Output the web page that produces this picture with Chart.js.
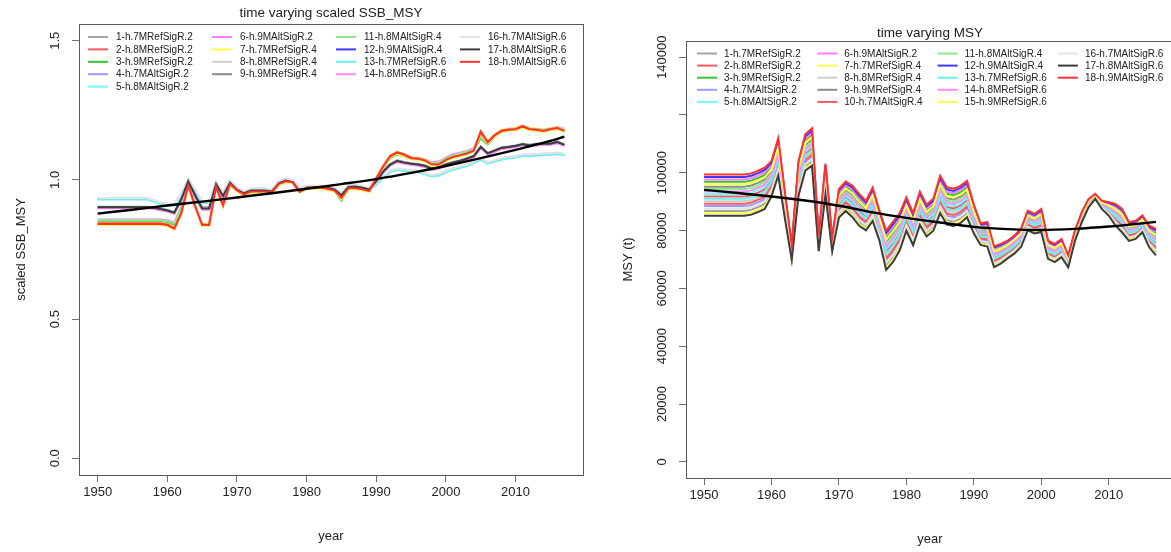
<!DOCTYPE html>
<html>
<head>
<meta charset="utf-8">
<script src="https://cdn.jsdelivr.net/npm/chart.js@4.4.1/dist/chart.umd.min.js"></script>
<style>
  html, body { margin: 0; padding: 0; background: #ffffff; overflow: hidden; }
  #leftPanel { position: absolute; left: 0; top: 0; width: 600px; height: 552px; }
  #rightPanel { position: absolute; left: 600px; top: 0; width: 580px; height: 552px; }
</style>
</head>
<body>
<div id="leftPanel"><canvas id="ssbCanvas" width="600" height="552"></canvas></div>
<div id="rightPanel"><canvas id="msyCanvas" width="580" height="552"></canvas></div>
<script>
// ---------- data ----------
const years = [1950,1951,1952,1953,1954,1955,1956,1957,1958,1959,1960,1961,1962,1963,1964,1965,1966,1967,1968,1969,
  1970,1971,1972,1973,1974,1975,1976,1977,1978,1979,1980,1981,1982,1983,1984,1985,1986,1987,1988,1989,
  1990,1991,1992,1993,1994,1995,1996,1997,1998,1999,2000,2001,2002,2003,2004,2005,2006,2007,2008,2009,
  2010,2011,2012,2013,2014,2015,2016,2017];

const xTickYears = [1950, 1960, 1970, 1980, 1990, 2000, 2010];
const ssbTicks = [0, 0.5, 1.0, 1.5];
const ssbTickLabels = ['0.0', '0.5', '1.0', '1.5'];
const msyTicks = [0, 20000, 40000, 60000, 80000, 100000, 120000, 140000];
const msyTickLabels = ['0', '20000', '40000', '60000', '80000', '100000', '', '140000'];

const seriesNames = ['1-h.7MRefSigR.2','2-h.8MRefSigR.2','3-h.9MRefSigR.2','4-h.7MAltSigR.2','5-h.8MAltSigR.2',
  '6-h.9MAltSigR.2','7-h.7MRefSigR.4','8-h.8MRefSigR.4','9-h.9MRefSigR.4','10-h.7MAltSigR.4',
  '11-h.8MAltSigR.4','12-h.9MAltSigR.4','13-h.7MRefSigR.6','14-h.8MRefSigR.6','15-h.9MRefSigR.6',
  '16-h.7MAltSigR.6','17-h.8MAltSigR.6','18-h.9MAltSigR.6'];

const seriesColors = ['#a3a3a3','#ff5a5a','#33c633','#9a9aff','#70ffff','#ff7dff','#ffff4d','#cfcfcf','#8c8c8c','#ff5a5a',
  '#8de88d','#3b3bff','#66f0f0','#ff8cff','#ffff4d','#e3e3e3','#3d3d3d','#ff3030'];

// scaled SSB_MSY by run
const ssb01 = [.932,.932,.932,.932,.932,.932,.932,.932,.925,.916,.912,.910,.948,1.000,.962,.920,.920,.990,.952,.995,.970,.956,.966,.966,.966,.962,.992,1.002,.996,.966,.976,.976,.976,.974,.968,.950,.978,.978,.975,.965,.985,1.010,1.030,1.038,1.035,1.032,1.030,1.022,1.014,1.018,1.030,1.038,1.045,1.052,1.062,1.075,1.060,1.068,1.075,1.080,1.082,1.088,1.088,1.090,1.092,1.092,1.095,1.090];
const ssb02 = [.840,.840,.840,.840,.840,.840,.840,.840,.840,.840,.836,.823,.878,.978,.903,.836,.836,.973,.906,.983,.960,.946,.956,.956,.956,.953,.983,.993,.990,.956,.970,.970,.970,.966,.960,.933,.968,.968,.964,.958,1.003,1.046,1.083,1.096,1.088,1.076,1.074,1.068,1.053,1.053,1.070,1.080,1.086,1.093,1.103,1.170,1.133,1.158,1.174,1.178,1.180,1.190,1.180,1.178,1.174,1.180,1.184,1.174];
const ssb03 = [.852,.852,.852,.852,.852,.852,.852,.852,.852,.852,.848,.840,.900,.990,.935,.897,.897,.982,.935,.988,.962,.950,.960,.960,.960,.956,.988,.998,.992,.960,.972,.972,.972,.968,.960,.925,.968,.970,.966,.960,1.000,1.042,1.078,1.092,1.085,1.075,1.074,1.068,1.058,1.060,1.075,1.085,1.092,1.098,1.108,1.150,1.128,1.155,1.172,1.178,1.180,1.188,1.180,1.178,1.175,1.180,1.184,1.178];
const ssb04 = [.934,.934,.934,.934,.934,.934,.934,.934,.927,.918,.914,.912,.950,1.002,.964,.922,.922,.992,.954,.997,.972,.958,.968,.968,.968,.964,.994,1.004,.998,.968,.978,.978,.978,.976,.970,.952,.980,.980,.977,.967,.987,1.012,1.032,1.040,1.037,1.034,1.032,1.024,1.016,1.020,1.032,1.040,1.047,1.054,1.064,1.077,1.062,1.070,1.077,1.082,1.084,1.090,1.090,1.092,1.094,1.094,1.097,1.092];
const ssb05 = [.931,.931,.931,.931,.931,.931,.931,.931,.924,.915,.911,.909,.947,.999,.961,.919,.919,.989,.951,.994,.969,.955,.965,.965,.965,.961,.991,1.001,.995,.965,.975,.975,.975,.973,.967,.949,.977,.977,.974,.964,.984,1.009,1.029,1.037,1.034,1.031,1.029,1.021,1.013,1.017,1.029,1.037,1.044,1.051,1.061,1.074,1.059,1.067,1.074,1.079,1.081,1.087,1.087,1.089,1.091,1.091,1.094,1.089];
const ssb06 = [.858,.858,.858,.858,.858,.858,.858,.858,.858,.858,.854,.846,.906,.996,.941,.903,.903,.988,.941,.994,.968,.956,.966,.966,.966,.962,.994,1.004,.998,.966,.978,.978,.978,.974,.966,.931,.974,.976,.972,.966,1.006,1.048,1.084,1.098,1.091,1.081,1.080,1.074,1.064,1.066,1.081,1.091,1.098,1.104,1.114,1.156,1.134,1.161,1.178,1.184,1.186,1.194,1.186,1.184,1.181,1.186,1.190,1.184];
const ssb07 = [.846,.846,.846,.846,.846,.846,.846,.846,.846,.846,.842,.829,.884,.984,.909,.842,.842,.979,.912,.989,.966,.952,.962,.962,.962,.959,.989,.999,.996,.962,.976,.976,.976,.972,.966,.939,.974,.974,.970,.964,1.009,1.052,1.089,1.102,1.094,1.082,1.080,1.074,1.059,1.059,1.076,1.086,1.092,1.099,1.109,1.176,1.139,1.164,1.180,1.184,1.186,1.196,1.186,1.184,1.180,1.186,1.190,1.180];
const ssb08 = [.933,.933,.933,.933,.933,.933,.933,.933,.926,.917,.913,.911,.949,1.001,.963,.921,.921,.991,.953,.996,.971,.957,.967,.967,.967,.963,.993,1.003,.997,.967,.977,.977,.977,.975,.969,.951,.979,.979,.976,.966,.986,1.011,1.031,1.039,1.036,1.033,1.031,1.023,1.015,1.019,1.031,1.039,1.046,1.053,1.063,1.076,1.061,1.069,1.076,1.081,1.083,1.089,1.089,1.091,1.093,1.093,1.096,1.091];
const ssb09 = [.904,.904,.904,.904,.904,.904,.904,.904,.902,.897,.892,.884,.932,.997,.947,.899,.899,.987,.944,.992,.967,.954,.964,.964,.964,.960,.990,1.000,.994,.960,.974,.976,.976,.974,.968,.947,.977,.978,.974,.968,.997,1.032,1.057,1.070,1.064,1.060,1.057,1.052,1.042,1.047,1.057,1.064,1.070,1.078,1.087,1.120,1.097,1.107,1.117,1.120,1.124,1.130,1.126,1.130,1.132,1.132,1.138,1.128];
const ssb10 = [.844,.844,.844,.844,.844,.844,.844,.844,.844,.844,.840,.827,.882,.982,.907,.840,.840,.977,.910,.987,.964,.950,.960,.960,.960,.957,.987,.997,.994,.960,.974,.974,.974,.970,.964,.937,.972,.972,.968,.962,1.007,1.050,1.087,1.100,1.092,1.080,1.078,1.072,1.057,1.057,1.074,1.084,1.090,1.097,1.107,1.174,1.137,1.162,1.178,1.182,1.184,1.194,1.184,1.182,1.178,1.184,1.188,1.178];
const ssb11 = [.855,.855,.855,.855,.855,.855,.855,.855,.855,.855,.851,.843,.903,.993,.938,.900,.900,.985,.938,.991,.965,.953,.963,.963,.963,.959,.991,1.001,.995,.963,.975,.975,.975,.971,.963,.928,.971,.973,.969,.963,1.003,1.045,1.081,1.095,1.088,1.078,1.077,1.071,1.061,1.063,1.078,1.088,1.095,1.101,1.111,1.153,1.131,1.158,1.175,1.181,1.183,1.191,1.183,1.181,1.178,1.183,1.187,1.181];
const ssb12 = [.900,.900,.900,.900,.900,.900,.900,.900,.898,.893,.888,.880,.928,.993,.943,.895,.895,.983,.940,.988,.963,.950,.960,.960,.960,.956,.986,.996,.990,.956,.970,.972,.972,.970,.964,.943,.973,.974,.970,.964,.993,1.028,1.053,1.066,1.060,1.056,1.053,1.048,1.038,1.043,1.053,1.060,1.066,1.074,1.083,1.116,1.093,1.103,1.113,1.116,1.120,1.126,1.122,1.126,1.128,1.128,1.134,1.124];
const ssb13 = [.930,.930,.930,.930,.930,.930,.930,.930,.923,.914,.910,.908,.946,.998,.960,.918,.918,.988,.950,.993,.968,.954,.964,.964,.964,.960,.990,1.000,.994,.964,.974,.974,.974,.972,.966,.948,.976,.976,.973,.963,.983,1.008,1.028,1.036,1.033,1.030,1.028,1.020,1.012,1.016,1.028,1.036,1.043,1.050,1.060,1.073,1.058,1.066,1.073,1.078,1.080,1.086,1.086,1.088,1.090,1.090,1.093,1.088];
const ssb14 = [.898,.898,.898,.898,.898,.898,.898,.898,.896,.891,.886,.878,.926,.991,.941,.893,.893,.981,.938,.986,.961,.948,.958,.958,.958,.954,.984,.994,.988,.954,.968,.970,.970,.968,.962,.941,.971,.972,.968,.962,.991,1.026,1.051,1.064,1.058,1.054,1.051,1.046,1.036,1.041,1.051,1.058,1.064,1.072,1.081,1.114,1.091,1.101,1.111,1.114,1.118,1.124,1.120,1.124,1.126,1.126,1.132,1.122];
const ssb15 = [.838,.838,.838,.838,.838,.838,.838,.838,.838,.838,.834,.821,.876,.976,.901,.834,.834,.971,.904,.981,.958,.944,.954,.954,.954,.951,.981,.991,.988,.954,.968,.968,.968,.964,.958,.931,.966,.966,.962,.956,1.001,1.044,1.081,1.094,1.086,1.074,1.072,1.066,1.051,1.051,1.068,1.078,1.084,1.091,1.101,1.168,1.131,1.156,1.172,1.176,1.178,1.188,1.178,1.176,1.172,1.178,1.182,1.172];
const ssb16 = [.935,.935,.935,.935,.935,.935,.935,.935,.928,.919,.915,.913,.951,1.003,.965,.923,.923,.993,.955,.998,.973,.959,.969,.969,.969,.965,.995,1.005,.999,.969,.979,.979,.979,.977,.971,.953,.981,.981,.978,.968,.988,1.013,1.033,1.041,1.038,1.035,1.033,1.025,1.017,1.021,1.033,1.041,1.048,1.055,1.065,1.078,1.063,1.071,1.078,1.083,1.085,1.091,1.091,1.093,1.095,1.095,1.098,1.093];
const ssb17 = [.902,.902,.902,.902,.902,.902,.902,.902,.900,.895,.890,.882,.930,.995,.945,.897,.897,.985,.942,.990,.965,.952,.962,.962,.962,.958,.988,.998,.992,.958,.972,.974,.974,.972,.966,.945,.975,.976,.972,.966,.995,1.030,1.055,1.068,1.062,1.058,1.055,1.050,1.040,1.045,1.055,1.062,1.068,1.076,1.085,1.118,1.095,1.105,1.115,1.118,1.122,1.128,1.124,1.128,1.130,1.130,1.136,1.126];
const ssb18 = [.842,.842,.842,.842,.842,.842,.842,.842,.842,.842,.838,.825,.880,.980,.905,.838,.838,.975,.908,.985,.962,.948,.958,.958,.958,.955,.985,.995,.992,.958,.972,.972,.972,.968,.962,.935,.970,.970,.966,.960,1.005,1.048,1.085,1.098,1.090,1.078,1.076,1.070,1.055,1.055,1.072,1.082,1.088,1.095,1.105,1.172,1.135,1.160,1.176,1.180,1.182,1.192,1.182,1.180,1.176,1.182,1.186,1.176];

// MSY (t) by run
const msy01 = [86800,86800,86800,86800,86800,86800,86800,87200,88100,89200,93300,100600,85050,70500,93500,102200,104000,73500,93750,73450,85700,88000,85900,82950,81300,84700,77750,68000,70700,74600,81300,76250,83300,79250,81250,87600,83600,83100,84100,86100,80150,75900,75500,68200,69400,71100,72750,75050,80900,79800,80450,70950,69850,71550,67800,76850,83300,88350,91200,87750,85750,82600,80300,77200,77850,80100,75100,72500];
const msy02 = [91840,91840,91840,91840,91840,91840,91840,92240,93140,94240,97620,105160,88230,72300,97700,106640,108560,75300,97530,75070,89180,91600,89740,86850,84900,88780,81410,72800,75620,79160,85380,80150,87380,83150,85150,92160,88160,87660,88660,90540,83690,78540,78500,70720,71800,73260,74970,77270,83300,82200,83270,73170,72070,73770,69240,78110,84500,89370,91800,88770,87370,85240,83180,79480,80070,82140,77740,75740];
const msy03 = [96880,96880,96880,96880,96880,96880,96880,97280,98180,99280,101940,109720,91410,74100,101900,111080,113120,77100,101310,76690,92660,95200,93580,90750,88500,92860,85070,77600,80540,83720,89460,84050,91460,87050,89050,96720,92720,92220,93220,94980,87230,81180,81500,73240,74200,75420,77190,79490,85700,84600,86090,75390,74290,75990,70680,79370,85700,90390,92400,89790,88990,87880,86060,81760,82290,84180,80380,78980];
const msy04 = [88480,88480,88480,88480,88480,88480,88480,88880,89780,90880,94740,102120,86110,71100,94900,103680,105520,74100,95010,73990,86860,89200,87180,84250,82500,86060,78970,69600,72340,76120,82660,77550,84660,80550,82550,89120,85120,84620,85620,87580,81330,76780,76500,69040,70200,71820,73490,75790,81700,80600,81390,71690,70590,72290,68280,77270,83700,88690,91400,88090,86290,83480,81260,77960,78590,80780,75980,73580];
const msy05 = [92680,92680,92680,92680,92680,92680,92680,93080,93980,95080,98340,105920,88760,72600,98400,107380,109320,75600,98160,75340,89760,92200,90380,87500,85500,89460,82020,73600,76440,79920,86060,80800,88060,83800,85800,92920,88920,88420,89420,91280,84280,78980,79000,71140,72200,73620,75340,77640,83700,82600,83740,73540,72440,74140,69480,78320,84700,89540,91900,88940,87640,85680,83660,79860,80440,82480,78180,76280];
const msy06 = [97720,97720,97720,97720,97720,97720,97720,98120,99020,100120,102660,110480,91940,74400,102600,111820,113880,77400,101940,76960,93240,95800,94220,91400,89100,93540,85680,78400,81360,84480,90140,84700,92140,87700,89700,97480,93480,92980,93980,95720,87820,81620,82000,73660,74600,75780,77560,79860,86100,85000,86560,75760,74660,76360,70920,79580,85900,90560,92500,89960,89260,88320,86540,82140,82660,84520,80820,79520];
const msy07 = [85960,85960,85960,85960,85960,85960,85960,86360,87260,88360,92580,99840,84520,70200,92800,101460,103240,73200,93120,73180,85120,87400,85260,82300,80700,84020,77140,67200,69880,73840,80620,75600,82620,78600,80600,86840,82840,82340,83340,85360,79560,75460,75000,67780,69000,70740,72380,74680,80500,79400,79980,70580,69480,71180,67560,76640,83100,88180,91100,87580,85480,82160,79820,76820,77480,79760,74660,71960];
const msy08 = [90160,90160,90160,90160,90160,90160,90160,90560,91460,92560,96180,103640,87170,71700,96300,105160,107040,74700,96270,74530,88020,90400,88460,85550,83700,87420,80190,71200,73980,77640,84020,78850,86020,81850,83850,90640,86640,86140,87140,89060,82510,77660,77500,69880,71000,72540,74230,76530,82500,81400,82330,72430,71330,73030,68760,77690,84100,89030,91600,88430,86830,84360,82220,78720,79330,81460,76860,74660];
const msy09 = [95200,95200,95200,95200,95200,95200,95200,95600,96500,97600,100500,108200,90350,73500,100500,109600,111600,76500,100050,76150,91500,94000,92300,89450,87300,91500,83850,76000,78900,82200,88100,82750,90100,85750,87750,95200,91200,90700,91700,93500,86050,80300,80500,72400,73400,74700,76450,78750,84900,83800,85150,74650,73550,75250,70200,78950,85300,90050,92200,89450,88450,87000,85100,81000,81550,83500,79500,77900];
const msy10 = [89320,89320,89320,89320,89320,89320,89320,89720,90620,91720,95460,102880,86640,71400,95600,104420,106280,74400,95640,74260,87440,89800,87820,84900,83100,86740,79580,70400,73160,76880,83340,78200,85340,81200,83200,89880,85880,85380,86380,88320,81920,77220,77000,69460,70600,72180,73860,76160,82100,81000,81860,72060,70960,72660,68520,77480,83900,88860,91500,88260,86560,83920,81740,78340,78960,81120,76420,74120];
const msy11 = [94360,94360,94360,94360,94360,94360,94360,94760,95660,96760,99780,107440,89820,73200,99800,108860,110840,76200,99420,75880,90920,93400,91660,88800,86700,90820,83240,75200,78080,81440,87420,82100,89420,85100,87100,94440,90440,89940,90940,92760,85460,79860,80000,71980,73000,74340,76080,78380,84500,83400,84680,74280,73180,74880,69960,78740,85100,89880,92100,89280,88180,86560,84620,80620,81180,83160,79060,77360];
const msy12 = [98560,98560,98560,98560,98560,98560,98560,98960,99860,100960,103380,111240,92470,74700,103300,112560,114640,77700,102570,77230,93820,96400,94860,92050,89700,94220,86290,79200,82180,85240,90820,85350,92820,88350,90350,98240,94240,93740,94740,96460,88410,82060,82500,74080,75000,76140,77930,80230,86500,85400,87030,76130,75030,76730,71160,79790,86100,90730,92600,90130,89530,88760,87020,82520,83030,84860,81260,80060];
const msy13 = [91000,91000,91000,91000,91000,91000,91000,91400,92300,93400,96900,104400,87700,72000,97000,105900,107800,75000,96900,74800,88600,91000,89100,86200,84300,88100,80800,72000,74800,78400,84700,79500,86700,82500,84500,91400,87400,86900,87900,89800,83100,78100,78000,70300,71400,72900,74600,76900,82900,81800,82800,72800,71700,73400,69000,77900,84300,89200,91700,88600,87100,84800,82700,79100,79700,81800,77300,75200];
const msy14 = [93520,93520,93520,93520,93520,93520,93520,93920,94820,95920,99060,106680,89290,72900,99100,108120,110080,75900,98790,75610,90340,92800,91020,88150,86100,90140,82630,74400,77260,80680,86740,81450,88740,84450,86450,93680,89680,89180,90180,92020,84870,79420,79500,71560,72600,73980,75710,78010,84100,83000,84210,73910,72810,74510,69720,78530,84900,89710,92000,89110,87910,86120,84140,80240,80810,82820,78620,76820];
const msy15 = [96040,96040,96040,96040,96040,96040,96040,96440,97340,98440,101220,108960,90880,73800,101200,110340,112360,76800,100680,76420,92080,94600,92940,90100,87900,92180,84460,76800,79720,82960,88780,83400,90780,86400,88400,95960,91960,91460,92460,94240,86640,80740,81000,72820,73800,75060,76820,79120,85300,84200,85620,75020,73920,75620,70440,79160,85500,90220,92300,89620,88720,87440,85580,81380,81920,83840,79940,78440];
const msy16 = [87640,87640,87640,87640,87640,87640,87640,88040,88940,90040,94020,101360,85580,70800,94200,102940,104760,73800,94380,73720,86280,88600,86540,83600,81900,85380,78360,68800,71520,75360,81980,76900,83980,79900,81900,88360,84360,83860,84860,86840,80740,76340,76000,68620,69800,71460,73120,75420,81300,80200,80920,71320,70220,71920,68040,77060,83500,88520,91300,87920,86020,83040,80780,77580,78220,80440,75540,73040];
const msy17 = [85120,85120,85120,85120,85120,85120,85120,85520,86420,87520,91860,99080,83990,69900,92100,100720,102480,72900,92490,72910,84540,86800,84620,81650,80100,83340,76530,66400,69060,73080,79940,74950,81940,77950,79950,86080,82080,81580,82580,84620,78970,75020,74500,67360,68600,70380,72010,74310,80100,79000,79510,70210,69110,70810,67320,76430,82900,88010,91000,87410,85210,81720,79340,76440,77110,79420,74220,71420];
const msy18 = [99400,99400,99400,99400,99400,99400,99400,99800,100700,101800,104100,112000,93000,75000,104000,113300,115400,78000,103200,77500,94400,97000,95500,92700,90300,94900,86900,80000,83000,86000,91500,86000,93500,89000,91000,99000,95000,94500,95500,97200,89000,82500,83000,74500,75400,76500,78300,80600,86900,85800,87500,76500,75400,77100,71400,80000,86300,90900,92700,90300,89800,89200,87500,82900,83400,85200,81700,80600];

// smoothed trend lines
const smoothYears = [1950,1955,1960,1965,1970,1975,1980,1985,1990,1995,2000,2005,2010,2015,2017];
const ssbSmooth = [0.879,0.893,0.908,0.922,0.937,0.952,0.968,0.985,1.003,1.025,1.050,1.078,1.108,1.140,1.155];
const msySmooth = [94100,93000,91800,90400,88600,86300,84400,82800,81300,80500,80200,80600,81400,82500,83000];

const ssbRuns = [ssb01,ssb02,ssb03,ssb04,ssb05,ssb06,ssb07,ssb08,ssb09,ssb10,ssb11,ssb12,ssb13,ssb14,ssb15,ssb16,ssb17,ssb18];
const msyRuns = [msy01,msy02,msy03,msy04,msy05,msy06,msy07,msy08,msy09,msy10,msy11,msy12,msy13,msy14,msy15,msy16,msy17,msy18];

// ---------- drawing ----------
const FONT = "'Liberation Sans', Arial, Helvetica, sans-serif";
const TEXT = '#222222';
const FRAME = '#5a5a5a';

function buildDatasets(runs, smooth) {
  const sets = runs.map((vals, k) => ({
    label: seriesNames[k],
    data: years.map((yr, i) => ({ x: yr, y: vals[i] })),
    borderColor: seriesColors[k],
    backgroundColor: seriesColors[k],
    borderWidth: 2,
    pointRadius: 0,
    tension: 0,
    fill: false,
    order: 40 - k
  }));
  sets.push({
    label: '',
    trend: true,
    data: smoothYears.map((yr, i) => ({ x: yr, y: smooth[i] })),
    borderColor: '#000000',
    borderWidth: 2.4,
    pointRadius: 0,
    cubicInterpolationMode: 'monotone',
    fill: false,
    order: 0
  });
  return sets;
}

function decorPlugin(cfg) {
  return {
    id: 'panelDecor',
    afterDraw(chart) {
      const ctx = chart.ctx;
      const a = chart.chartArea;
      const ys = chart.scales.y;
      ctx.save();
      // plot frame
      ctx.strokeStyle = FRAME;
      ctx.lineWidth = 1;
      ctx.strokeRect(Math.round(a.left) + 0.5, Math.round(a.top) + 0.5,
        Math.round(a.right - a.left), Math.round(a.bottom - a.top));

      ctx.fillStyle = TEXT;
      ctx.textAlign = 'center';
      ctx.textBaseline = 'middle';
      ctx.font = '13px ' + FONT;
      // y tick labels, parallel to the axis
      cfg.yTicks.forEach((v, i) => {
        if (!cfg.yLabels[i]) return;
        ctx.save();
        ctx.translate(a.left - 24, ys.getPixelForValue(v));
        ctx.rotate(-Math.PI / 2);
        ctx.fillText(cfg.yLabels[i], 0, 0);
        ctx.restore();
      });
      // axis titles
      ctx.save();
      ctx.translate(a.left - 58, (a.top + a.bottom) / 2);
      ctx.rotate(-Math.PI / 2);
      ctx.fillText(cfg.yTitle, 0, 0);
      ctx.restore();
      ctx.fillText('year', (a.left + a.right) / 2, a.bottom + 61);
      // main title
      ctx.font = '13.5px ' + FONT;
      ctx.fillText(cfg.title, (a.left + a.right) / 2, cfg.titleY);

      // legend: 4 columns, filled column by column
      const lg = cfg.legend;
      ctx.font = '10px ' + FONT;
      ctx.textAlign = 'left';
      chart.data.datasets.filter(d => !d.trend).forEach((ds, k) => {
        if (lg.skip.includes(k)) return;
        const col = Math.floor(k / 5), row = k % 5;
        const x = lg.x0 + col * lg.colW;
        const y = lg.y0 + row * lg.rowH;
        ctx.strokeStyle = ds.borderColor;
        ctx.lineWidth = 2;
        ctx.beginPath();
        ctx.moveTo(x, y);
        ctx.lineTo(x + 20, y);
        ctx.stroke();
        ctx.fillStyle = TEXT;
        ctx.fillText(ds.label, x + lg.textDx, y + 0.5);
      });
      ctx.restore();
    }
  };
}

function makePanel(canvasId, runs, smooth, cfg) {
  return new Chart(document.getElementById(canvasId), {
    type: 'line',
    data: { datasets: buildDatasets(runs, smooth) },
    options: {
      responsive: false,
      animation: false,
      events: [],
      layout: { padding: { left: 0, right: cfg.padRight, top: cfg.padTop, bottom: 0 } },
      plugins: { legend: { display: false }, tooltip: { enabled: false }, title: { display: false } },
      scales: {
        x: {
          type: 'linear',
          min: 1947.32,
          max: 2019.68,
          afterBuildTicks: s => { s.ticks = xTickYears.map(v => ({ value: v })); },
          afterFit: s => { s.height = cfg.xAxisH; },
          border: { display: false },
          grid: { drawOnChartArea: false, drawTicks: true, tickLength: 7, color: '#6e6e6e', lineWidth: 1 },
          ticks: {
            font: { family: FONT, size: 13 }, color: TEXT, padding: 3,
            maxRotation: 0, minRotation: 0, autoSkip: false,
            callback: v => String(v)
          }
        },
        y: {
          type: 'linear',
          min: cfg.yMin,
          max: cfg.yMax,
          afterBuildTicks: s => { s.ticks = cfg.yTicks.map(v => ({ value: v })); },
          afterFit: s => { s.width = cfg.yAxisW; },
          border: { display: false },
          grid: { drawOnChartArea: false, drawTicks: true, tickLength: 7, color: '#6e6e6e', lineWidth: 1 },
          ticks: { display: false }
        }
      }
    },
    plugins: [decorPlugin(cfg)]
  });
}

makePanel('ssbCanvas', ssbRuns, ssbSmooth, {
  padRight: 17, padTop: 24, yAxisW: 79, xAxisH: 77,
  yMin: -0.06, yMax: 1.56, yTicks: ssbTicks, yLabels: ssbTickLabels,
  yTitle: 'scaled SSB_MSY', title: 'time varying scaled SSB_MSY', titleY: 13,
  legend: { x0: 88, colW: 124, y0: 37, rowH: 12.4, textDx: 28, skip: [9, 14] }
});

makePanel('msyCanvas', msyRuns, msySmooth, {
  padRight: 6, padTop: 41, yAxisW: 86, xAxisH: 74,
  yMin: -5600, yMax: 145600, yTicks: msyTicks, yLabels: msyTickLabels,
  yTitle: 'MSY (t)', title: 'time varying MSY', titleY: 33,
  legend: { x0: 97, colW: 120.3, y0: 53.5, rowH: 12.1, textDx: 27, skip: [] }
});
</script>
</body>
</html>
